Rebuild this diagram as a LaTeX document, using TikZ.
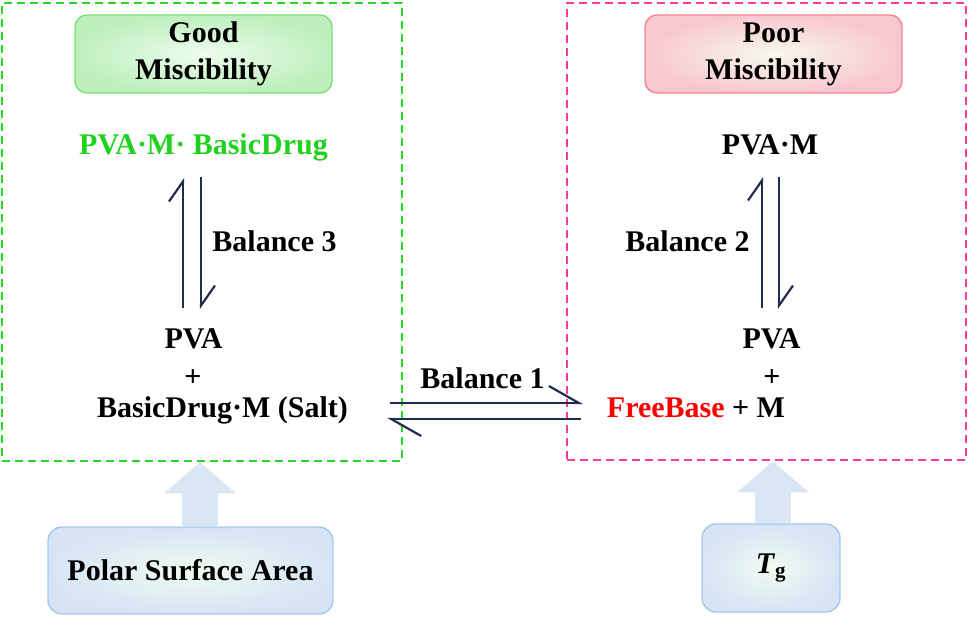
\documentclass[tikz,border=0pt]{standalone}
\usepackage{fontspec}
\setmainfont{Liberation Serif}
\usepackage{xcolor}
\usepackage{tikz}
\usetikzlibrary{shapes, arrows, arrows.meta, positioning}

\definecolor{framegreen}{RGB}{40,215,40}
\definecolor{framepink}{RGB}{250,60,150}
\definecolor{druggreen}{RGB}{30,210,30}
\definecolor{freered}{RGB}{250,0,0}
\definecolor{eqnavy}{RGB}{30,45,80}
\definecolor{goodedge}{RGB}{120,225,120}
\definecolor{goodout}{RGB}{190,240,190}
\definecolor{goodin}{RGB}{238,252,238}
\definecolor{pooredge}{RGB}{245,130,150}
\definecolor{poorout}{RGB}{248,200,208}
\definecolor{poorin}{RGB}{246,248,236}
\definecolor{boxedge}{RGB}{165,200,235}
\definecolor{boxout}{RGB}{214,228,245}
\definecolor{boxin}{RGB}{240,251,240}
\definecolor{fatblue}{RGB}{218,230,243}

\tikzset{
  bigfont/.style={font=\bfseries\fontsize{30}{37}\selectfont},
  vbarb/.style={-{Straight Barb[left, length=20pt, width=28pt]}},
  hbarb/.style={-{Straight Barb[left, length=30pt, width=34pt]}},
  fatarrow/.style={draw=fatblue, line width=36pt,
    -{Triangle[length=31pt, width=72pt, line width=0pt]}}
}

\begin{document}
\begin{tikzpicture}[x=1pt, y=-1pt]
        \useasboundingbox (0,0) rectangle (968,617);
        % dashed frames
        \begin{scope}[every node/.style={line width=2.6pt, dash pattern=on 8pt off 5pt, inner sep=0pt}]
          \node[draw=framegreen, minimum width=400pt, minimum height=458pt] (goodframe) at (202,232) {};
          \node[draw=framepink, minimum width=399pt, minimum height=457pt] (poorframe) at (766.5,231.5) {};
        \end{scope}
        % title boxes
        \begin{scope}[every node/.style={bigfont, draw, line width=1.4pt, rounded corners=12pt, align=center, minimum width=257pt, minimum height=78pt}]
          \node[draw=goodedge, inner color=goodin, outer color=goodout] (good) at (203.5,54) {Good\\Miscibility};
          \node[draw=pooredge, inner color=poorin, outer color=poorout] (poor) at (773.5,54) {Poor\\Miscibility};
        \end{scope}
        % species
        \begin{scope}[every node/.style={bigfont, anchor=base, inner sep=0pt}]
          \node[text=druggreen] (pvamdrug) at (203.5,155) {PVA·M· BasicDrug};
          \node (pvam) at (770,155) {PVA·M};
          \node (pvaL) at (193.5,348) {PVA};
          \node (plusL) at (193,386) {+};
          \node (salt) at (222.5,417) {BasicDrug·M (Salt)};
          \node (pvaR) at (771.5,348) {PVA};
          \node (plusR) at (772,386) {+};
          \node (freebase) at (696,417) {\textcolor{freered}{FreeBase} + M};
          \node (bal3) at (274.5,252) {Balance 3};
          \node (bal2) at (687.5,252) {Balance 2};
          \node (bal1) at (482.5,388) {Balance 1};
        \end{scope}
        % factor boxes
        \begin{scope}[every node/.style={bigfont, draw=boxedge, line width=1.4pt, rounded corners=14pt, inner color=boxin, outer color=boxout}]
          \node[minimum width=285pt, minimum height=87pt] (psa) at (190.5,570.5) {Polar Surface Area};
          \node[minimum width=138pt, minimum height=88pt] (tg) at (771,568) {\textit{T}\textsubscript{g}};
        \end{scope}
        % ends of the equilibrium arrows
        \coordinate (b3up) at (183,308);   \coordinate (b3top) at (183,178);
        \coordinate (b3dn) at (201,177);   \coordinate (b3bot) at (201,309);
        \coordinate (b2up) at (762,308);   \coordinate (b2top) at (762,177);
        \coordinate (b2dn) at (779,177);   \coordinate (b2bot) at (779,309);
        \coordinate (b1l) at (390,403);    \coordinate (b1r) at (583,403);
        \coordinate (b1rr) at (581,419);   \coordinate (b1ll) at (387,419);
        \begin{scope}[every edge/.style={draw=eqnavy, line width=2.2pt}]
          \path (b3up) edge[vbarb] (b3top);
          \path (b3dn) edge[vbarb] (b3bot);
          \path (b2up) edge[vbarb] (b2top);
          \path (b2dn) edge[vbarb] (b2bot);
          \path (b1l) edge[hbarb] (b1r);
          \path (b1rr) edge[hbarb] (b1ll);
        \end{scope}
        % block arrows
        \draw[fatarrow] ([xshift=9.5pt]psa.north) -- ([xshift=9.5pt]psa.north |- goodframe.south);
        \draw[fatarrow] ([xshift=2pt]tg.north) -- ([xshift=2pt]tg.north |- poorframe.south);
      \end{tikzpicture}
\end{document}
